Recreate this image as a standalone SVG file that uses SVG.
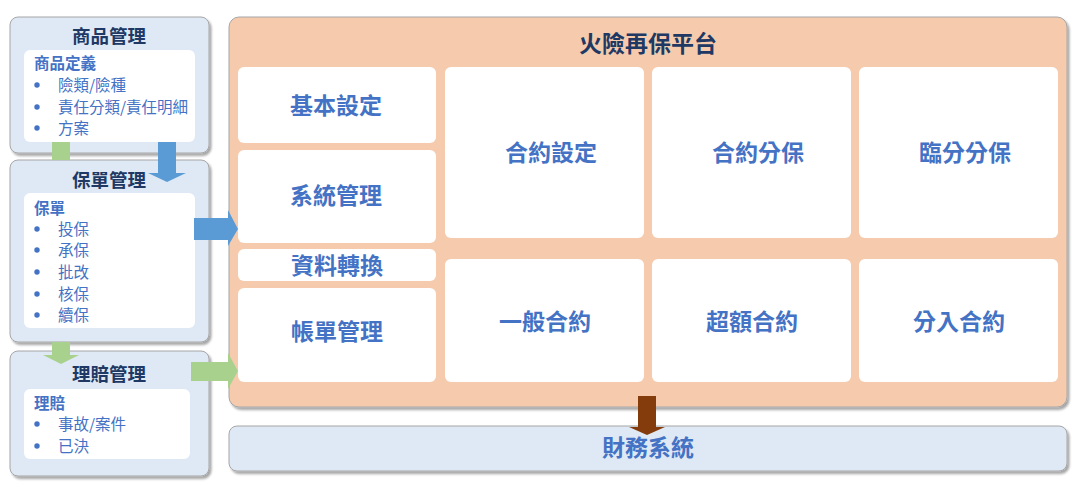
<svg xmlns="http://www.w3.org/2000/svg" width="1077" height="491" viewBox="0 0 1077 491">
<defs>
<filter id="sh" x="-5%" y="-5%" width="115%" height="120%">
<feDropShadow dx="2" dy="2.5" stdDeviation="1.2" flood-color="#000" flood-opacity="0.35"/>
</filter>
<style>
text{font-family:"Noto Sans CJK TC","Noto Sans CJK SC",sans-serif}
.outer{fill:#dee9f5;stroke:#a6a6a6;stroke-width:1}
.inner{fill:#fff}
.t1{font-size:18.5px;font-weight:700;fill:#203864;text-anchor:middle}
.sub{font-size:15.5px;font-weight:700;fill:#4472c4}
.item{font-size:15.5px;fill:#4472c4}
.bul{fill:#4472c4}
.plat{fill:#f6cbad;stroke:#a6a6a6;stroke-width:1}
.cell{fill:#fff}
.ct{font-size:23px;font-weight:700;fill:#4472c4;text-anchor:middle}
.pt{font-size:23px;font-weight:700;fill:#203864;text-anchor:middle}
.blue{fill:#5b9bd5}
.green{fill:#a9d18e}
.brown{fill:#843c0c}
</style>
</defs>

<g id="product">
<rect class="outer" x="10" y="17" width="199" height="136" rx="8" filter="url(#sh)"/>
<rect class="inner" x="24" y="50" width="171" height="92" rx="6"/>
<text class="t1" x="109" y="43">商品管理</text>
<text class="sub" x="34" y="69">商品定義</text>
<circle class="bul" cx="37" cy="85" r="2.7"/><text class="item" x="58" y="91">險類/險種</text>
<circle class="bul" cx="37" cy="107" r="2.7"/><text class="item" x="58" y="113">責任分類/責任明細</text>
<circle class="bul" cx="37" cy="128" r="2.7"/><text class="item" x="58" y="134">方案</text>
</g>

<g id="policy">
<rect class="outer" x="10" y="160" width="199" height="182" rx="8" filter="url(#sh)"/>
<rect class="inner" x="24" y="193" width="171" height="135" rx="6"/>
<text class="t1" x="109" y="187">保單管理</text>
<text class="sub" x="34" y="214">保單</text>
<circle class="bul" cx="37" cy="229" r="2.7"/><text class="item" x="58" y="235">投保</text>
<circle class="bul" cx="37" cy="250" r="2.7"/><text class="item" x="58" y="256">承保</text>
<circle class="bul" cx="37" cy="272" r="2.7"/><text class="item" x="58" y="278">批改</text>
<circle class="bul" cx="37" cy="294" r="2.7"/><text class="item" x="58" y="300">核保</text>
<circle class="bul" cx="37" cy="315" r="2.7"/><text class="item" x="58" y="321">續保</text>
</g>

<g id="claims">
<rect class="outer" x="10" y="351" width="199" height="125" rx="8" filter="url(#sh)"/>
<rect class="inner" x="24" y="389" width="166" height="70" rx="6"/>
<text class="t1" x="109" y="381">理賠管理</text>
<text class="sub" x="34" y="409">理賠</text>
<circle class="bul" cx="37" cy="424" r="2.7"/><text class="item" x="58" y="430">事故/案件</text>
<circle class="bul" cx="37" cy="446" r="2.7"/><text class="item" x="58" y="452">已決</text>
</g>

<g id="platform">
<rect class="plat" x="229" y="17" width="838" height="390" rx="10" filter="url(#sh)"/>
<text class="pt" x="648" y="52">火險再保平台</text>
</g>

<g id="basic"><rect class="cell" x="238" y="67" width="198" height="76" rx="6"/><text class="ct" x="336" y="114">基本設定</text></g>
<g id="sysmgmt"><rect class="cell" x="238" y="150" width="198" height="93" rx="6"/><text class="ct" x="336" y="204">系統管理</text></g>
<g id="convert"><rect class="cell" x="238" y="249" width="198" height="32" rx="6"/><text class="ct" x="337" y="274">資料轉換</text></g>
<g id="billing"><rect class="cell" x="238" y="288" width="198" height="94" rx="6"/><text class="ct" x="337" y="340">帳單管理</text></g>
<g id="treatyset"><rect class="cell" x="445" y="67" width="199" height="171" rx="6"/><text class="ct" x="551" y="161">合約設定</text></g>
<g id="treatyces"><rect class="cell" x="652" y="67" width="199" height="171" rx="6"/><text class="ct" x="758" y="161">合約分保</text></g>
<g id="facces"><rect class="cell" x="859" y="67" width="199" height="171" rx="6"/><text class="ct" x="965" y="161">臨分分保</text></g>
<g id="general"><rect class="cell" x="445" y="259" width="199" height="123" rx="6"/><text class="ct" x="545" y="330">一般合約</text></g>
<g id="excess"><rect class="cell" x="652" y="259" width="199" height="123" rx="6"/><text class="ct" x="752" y="330">超額合約</text></g>
<g id="inward"><rect class="cell" x="859" y="259" width="199" height="123" rx="6"/><text class="ct" x="959" y="330">分入合約</text></g>

<g id="finance">
<rect class="outer" x="229" y="426" width="838" height="45" rx="8" filter="url(#sh)"/>
<text class="ct" x="648" y="456">財務系統</text>
</g>

<g id="connectors">
<rect class="green" x="52" y="142" width="18" height="18"/>
<polygon class="blue" points="158,142 176,142 176,173 186,173 167,182 148,173 158,173"/>
<polygon class="blue" points="194,218 228,218 228,210 238,229 228,246 228,240 194,240"/>
<polygon class="green" points="52,342 70,342 70,355 79,355 61,364 43,355 52,355"/>
<polygon class="green" points="191,362 228,362 228,353 238,371 228,389 228,381 191,381"/>
<polygon class="brown" points="638,396 656,396 656,427 665,427 647,435 629,427 638,427"/>
</g>
</svg>
